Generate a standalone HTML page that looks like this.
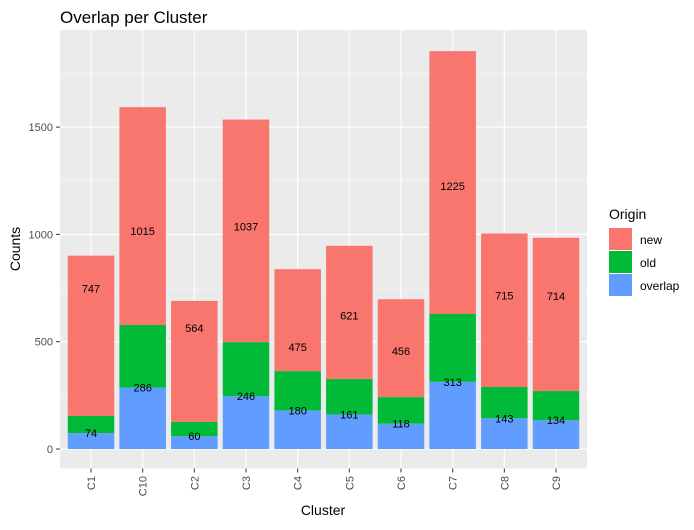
<!DOCTYPE html>
<html><head><meta charset="utf-8"><style>
body{margin:0;background:#fff;font-family:"Liberation Sans",sans-serif}
</style></head><body>
<svg id="c" width="694" height="525" xmlns="http://www.w3.org/2000/svg" font-family="Liberation Sans, sans-serif">
<text x="60" y="23" font-size="17" fill="#000">Overlap per Cluster</text>
<rect x="60" y="30" width="527" height="438.5" fill="#EBEBEB"/>
<g id="grid"></g><g id="bars"></g><g id="labels"></g><g id="axes"></g>
<text x="323" y="515" font-size="14" text-anchor="middle">Cluster</text>
<text transform="translate(20,249) rotate(-90)" font-size="14" text-anchor="middle">Counts</text>
<g>
<text x="609" y="219" font-size="14">Origin</text>
<rect x="609" y="228" width="23" height="22" fill="#F8766D"/>
<text x="640" y="244" font-size="12">new</text>
<rect x="609" y="251" width="23" height="22" fill="#00BA38"/>
<text x="640" y="267" font-size="12">old</text>
<rect x="609" y="274" width="23" height="22" fill="#619CFF"/>
<text x="640" y="290" font-size="12">overlap</text>
</g>
</svg>
<script>
const categories=["C1","C10","C2","C3","C4","C5","C6","C7","C8","C9"];
const overlapVals=[74,286,60,246,180,161,118,313,143,134];
const oldVals=[80,292,66,252,183,165,124,316,146,136];
const newVals=[747,1015,564,1037,475,621,456,1225,715,714];
const yTicks=[0,500,1000,1500];
const NS="http://www.w3.org/2000/svg";
const x0=60,pw=527,yZero=449,pxPer=107.3/500;
const step=pw/(categories.length-1+1.2);
const xc=i=>x0+step*(0.6+i);
const y=v=>yZero-v*pxPer;
function mk(tag,attrs,parent){const e=document.createElementNS(NS,tag);for(const k in attrs)e.setAttribute(k,attrs[k]);document.getElementById(parent).appendChild(e);return e;}
for(let v=250;v<=1750;v+=500){const l=mk('line',{x1:60,x2:587,y1:y(v),y2:y(v),stroke:'#fff','stroke-width':0.5},'grid');

}
yTicks.forEach(v=>{const l=mk('line',{x1:60,x2:587,y1:y(v),y2:y(v),stroke:'#fff','stroke-width':1.1},'grid');


const t=mk('text',{x:53,y:y(v)+4,'font-size':11,'text-anchor':'end',fill:'#4D4D4D'},'axes');t.textContent=v;


const tk=mk('line',{x1:56,x2:60,y1:y(v),y2:y(v),stroke:'#333'},'axes');

});
const bw=step*0.9;
categories.forEach((c,i)=>{
const gl=mk('line',{x1:xc(i),x2:xc(i),y1:30,y2:468.5,stroke:'#fff','stroke-width':1.1},'grid');


let base=0;
[[overlapVals[i],'#619CFF','overlap'],[oldVals[i],'#00BA38','old'],[newVals[i],'#F8766D','new']].forEach(([v,col,nm])=>{
const r=mk('rect',{x:xc(i)-bw/2,y:y(base+v),width:bw,height:v*pxPer,fill:col},'bars');


base+=v;});
[overlapVals[i],newVals[i]].forEach((v,k)=>{const t=mk('text',{x:xc(i),y:y(v)+4,'font-size':11,'text-anchor':'middle',fill:'#000'},'labels');t.textContent=v;

});
const tk=mk('line',{x1:xc(i),x2:xc(i),y1:468.5,y2:472.5,stroke:'#333'},'axes');


const t=mk('text',{transform:`translate(${xc(i)+4},476) rotate(-90)`,'font-size':11,'text-anchor':'end',fill:'#4D4D4D'},'axes');t.textContent=c;


});
</script>
</body></html>
